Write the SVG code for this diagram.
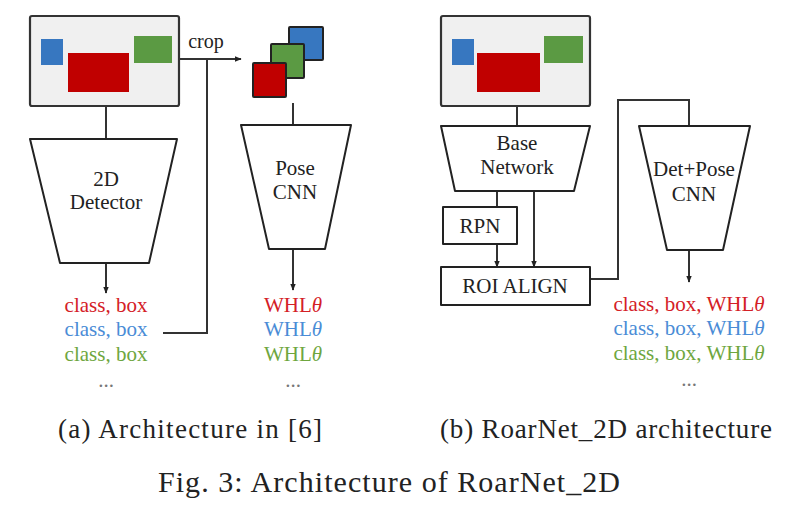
<svg xmlns="http://www.w3.org/2000/svg" width="800" height="513" viewBox="0 0 800 513">
<defs>
<style>
.frame{fill:#f0f0f0;stroke:#333;stroke-width:2.2}
.shape{fill:#fff;stroke:#222;stroke-width:2;stroke-linejoin:round}
.line{fill:none;stroke:#333;stroke-width:2}
.lbl{font-family:"Liberation Serif","Times New Roman",serif;font-size:21px;fill:#222;text-anchor:middle}
.out{font-family:"Liberation Serif","Times New Roman",serif;font-size:21px;text-anchor:middle}
.cap{font-family:"Liberation Serif","Times New Roman",serif;fill:#222}
.r{fill:#d42026}.b{fill:#4a8cd6}.g{fill:#6ea63e}
.sr{fill:#c00000}.sb{fill:#3777c0}.sg{fill:#5b9a43}
</style>
<marker id="ah" viewBox="0 0 10 10" refX="9" refY="5" markerWidth="7" markerHeight="7" markerUnits="userSpaceOnUse" orient="auto"><path d="M0,1 L10,5 L0,9 Z" fill="#222"/></marker>
</defs>
<g id="connectors">
<line class="line" x1="106" y1="106" x2="106" y2="139"/>
<line class="line" x1="106" y1="263" x2="106" y2="293" marker-end="url(#ah)"/>
<line class="line" x1="179" y1="59" x2="241" y2="59" marker-end="url(#ah)"/>
<polyline class="line" points="163,333 207,333 207,59"/>
<line class="line" x1="293" y1="103" x2="293" y2="125"/>
<line class="line" x1="293" y1="249" x2="293" y2="290" marker-end="url(#ah)"/>
<line class="line" x1="517" y1="106" x2="517" y2="126"/>
<line class="line" x1="497" y1="191" x2="497" y2="207"/>
<line class="line" x1="497" y1="244" x2="497" y2="267" marker-end="url(#ah)"/>
<line class="line" x1="534" y1="191" x2="534" y2="267" marker-end="url(#ah)"/>
<polyline class="line" points="590,279 618,279 618,100 689,100 689,126"/>
<line class="line" x1="689" y1="250" x2="689" y2="282" marker-end="url(#ah)"/>
<text class="cap" x="206" y="48" font-size="20" text-anchor="middle">crop</text>
</g>
<g id="image-a">
<rect class="frame" x="30" y="16" width="149" height="90" rx="2"/>
<rect class="sb" x="41" y="39" width="22" height="26"/>
<rect class="sr" x="68" y="53" width="61" height="39"/>
<rect class="sg" x="134" y="36" width="38" height="27"/>
</g>
<g id="detector-2d">
<polygon class="shape" points="30,139 177,139 149,263 60,263"/>
<text class="lbl" x="106" y="186">2D</text>
<text class="lbl" x="106" y="209">Detector</text>
</g>
<g id="crops">
<rect class="sb" x="289" y="27" width="34" height="33" stroke="#222" stroke-width="2" rx="1"/>
<rect class="sg" x="271" y="44" width="33" height="34" stroke="#222" stroke-width="2" rx="1"/>
<rect class="sr" x="253" y="63" width="33" height="34" stroke="#222" stroke-width="2" rx="1"/>
</g>
<g id="pose-cnn">
<polygon class="shape" points="241,125 351,125 325,249 269,249"/>
<text class="lbl" x="295" y="175">Pose</text>
<text class="lbl" x="295" y="199">CNN</text>
</g>
<g id="outputs-a">
<text class="out r" x="106" y="312">class, box</text>
<text class="out b" x="106" y="336">class, box</text>
<text class="out g" x="106" y="361">class, box</text>
<text class="out" x="106" y="387" fill="#777" font-size="14">...</text>
<text class="out r" x="293" y="312">WHL<tspan font-style="italic">θ</tspan></text>
<text class="out b" x="293" y="336">WHL<tspan font-style="italic">θ</tspan></text>
<text class="out g" x="293" y="361">WHL<tspan font-style="italic">θ</tspan></text>
<text class="out" x="293" y="387" fill="#777" font-size="14">...</text>
</g>
<g id="image-b">
<rect class="frame" x="441" y="16" width="149" height="90" rx="2"/>
<rect class="sb" x="452" y="39" width="22" height="26"/>
<rect class="sr" x="477" y="53" width="63" height="39"/>
<rect class="sg" x="544" y="36" width="39" height="27"/>
</g>
<g id="base-network">
<polygon class="shape" points="441,126 590,126 574,191 455,191"/>
<text class="lbl" x="517" y="150">Base</text>
<text class="lbl" x="517" y="174">Network</text>
</g>
<g id="rpn">
<rect class="shape" x="443" y="207" width="74" height="37"/>
<text class="lbl" x="480" y="233">RPN</text>
</g>
<g id="roi-align">
<rect class="shape" x="441" y="267" width="149" height="38"/>
<text class="lbl" x="515" y="293">ROI ALIGN</text>
</g>
<g id="det-pose-cnn">
<polygon class="shape" points="639,126 750,126 723,250 667,250"/>
<text class="lbl" x="694" y="176">Det+Pose</text>
<text class="lbl" x="694" y="201">CNN</text>
</g>
<g id="outputs-b">
<text class="out r" x="689" y="311">class, box, WHL<tspan font-style="italic">θ</tspan></text>
<text class="out b" x="689" y="335">class, box, WHL<tspan font-style="italic">θ</tspan></text>
<text class="out g" x="689" y="360">class, box, WHL<tspan font-style="italic">θ</tspan></text>
<text class="out" x="689" y="386" fill="#777" font-size="14">...</text>
</g>
<g id="captions">
<text class="cap" x="58" y="438" font-size="27" textLength="264" lengthAdjust="spacing">(a) Architecture in [6]</text>
<text class="cap" x="440" y="438" font-size="27" textLength="332" lengthAdjust="spacing">(b) RoarNet_2D architecture</text>
<text class="cap" x="158" y="492" font-size="30" textLength="462" lengthAdjust="spacing">Fig. 3: Architecture of RoarNet_2D</text>
</g>
</svg>
